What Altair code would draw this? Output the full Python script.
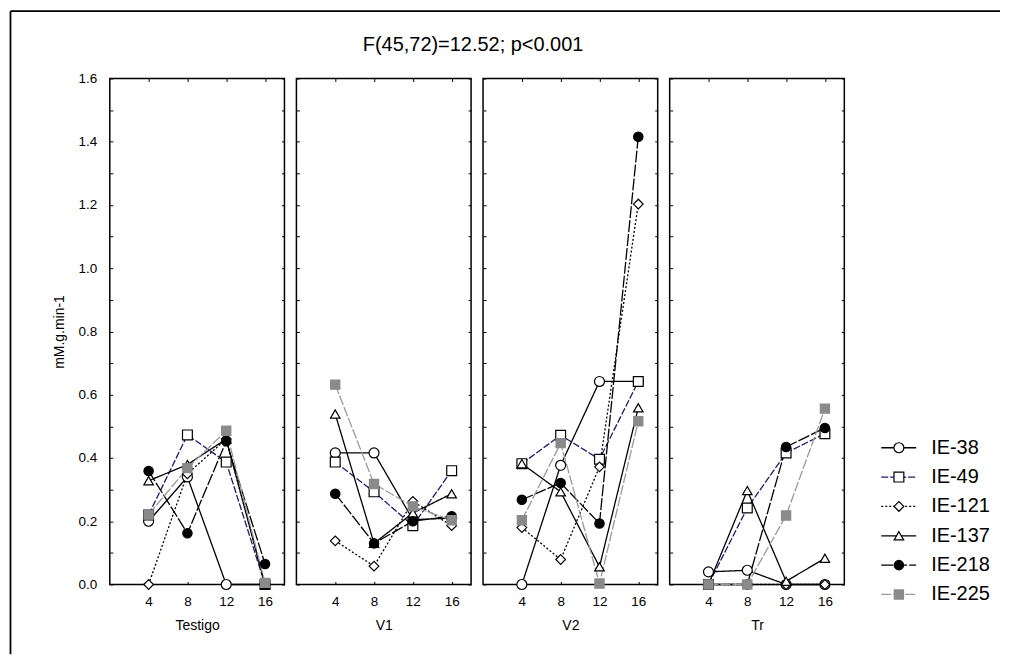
import altair as alt
import pandas as pd

weeks = [4, 8, 12, 16]
treatments = ["Testigo", "V1", "V2", "Tr"]
series = ["IE-38", "IE-49", "IE-121", "IE-137", "IE-218", "IE-225"]
chart_title = "F(45,72)=12.52; p<0.001"
y_title = "mM.g.min-1"

# values per series: Testigo(4,8,12,16), V1(4..16), V2(4..16), Tr(4..16)
ie38 = [0.20, 0.34, 0.00, 0.00, 0.416, 0.416, 0.205, 0.21, 0.00, 0.377, 0.642, 0.642, 0.04, 0.045, 0.00, 0.00]
ie49 = [0.22, 0.473, 0.387, 0.00, 0.387, 0.293, 0.186, 0.36, 0.382, 0.472, 0.396, 0.642, 0.00, 0.242, 0.416, 0.477]
ie121 = [0.00, 0.35, 0.46, 0.00, 0.138, 0.058, 0.263, 0.186, 0.18, 0.079, 0.372, 1.203, 0.00, 0.00, 0.00, 0.00]
ie137 = [0.328, 0.379, 0.46, 0.00, 0.539, 0.13, 0.226, 0.287, 0.382, 0.293, 0.056, 0.559, 0.00, 0.297, 0.01, 0.083]
ie218 = [0.359, 0.162, 0.453, 0.065, 0.287, 0.13, 0.20, 0.216, 0.268, 0.321, 0.193, 1.416, 0.00, 0.00, 0.435, 0.495]
ie225 = [0.221, 0.368, 0.486, 0.005, 0.632, 0.318, 0.247, 0.203, 0.203, 0.447, 0.003, 0.516, 0.00, 0.00, 0.218, 0.556]
all_vals = [ie38, ie49, ie121, ie137, ie218, ie225]

line_colors = ["#000000", "#1a1a72", "#000000", "#000000", "#000000", "#9a9a9a"]
dashes = [[1, 0], [7, 2], [2, 2], [1, 0], [12, 2], [10, 2]]
shapes = ["circle", "square", "diamond", "triangle-up", "circle", "square"]
fills = ["#ffffff", "#ffffff", "#ffffff", "#ffffff", "#000000", "#8a8a8a"]
strokes = ["#000000", "#000000", "#000000", "#000000", "#000000", "#8a8a8a"]
sizes = [100, 85, 60, 110, 100, 95]
legend_sizes = [70, 60, 48, 72, 70, 66]
stroke_widths = [1.2, 1.2, 1.2, 1.8, 1.2, 1.0]

rows = []
for si, (name, vals) in enumerate(zip(series, all_vals)):
    for ti, t in enumerate(treatments):
        for wi, w in enumerate(weeks):
            rows.append(dict(series=name, order=si, treatment=t, week=w, value=vals[ti * 4 + wi]))
df = pd.DataFrame(rows)

FONT = "Liberation Sans"
W, H = 175, 507
yvals = [round(i * 0.1, 1) for i in range(17)]
ylabel_expr = "round(datum.value*10) % 2 == 0 ? format(datum.value, '.1f') : ''"

xs = alt.Scale(domain=[0, 18], nice=False, zero=False)
ys = alt.Scale(domain=[0, 1.6], nice=False)

color_enc = alt.Color("series:N", scale=alt.Scale(domain=series, range=line_colors), legend=None)
dash_enc = alt.StrokeDash("series:N", scale=alt.Scale(domain=series, range=dashes), legend=None)
shape_enc = alt.Shape("series:N", scale=alt.Scale(domain=series, range=shapes), legend=None)
fill_enc = alt.Fill("series:N", scale=alt.Scale(domain=series, range=fills), legend=None)
stroke_enc = alt.Stroke("series:N", scale=alt.Scale(domain=series, range=strokes), legend=None)
sw_enc = alt.StrokeWidth("series:N", scale=alt.Scale(domain=series, range=stroke_widths), legend=None)


def panel(t, first):
    base = alt.Chart(df).transform_filter(alt.datum.treatment == t)
    yaxis_kw = dict(orient="left", values=yvals, offset=-3, tickSize=3, domain=False, grid=False)
    if first:
        yaxis_kw.update(labels=True, labelExpr=ylabel_expr, labelPadding=13, title=y_title, titlePadding=12)
    else:
        yaxis_kw.update(labels=False, title=None)
    lines = base.mark_line(strokeWidth=1.3).encode(
        x=alt.X("week:Q", scale=xs, axis=alt.Axis(orient="bottom", values=weeks, offset=-3, tickSize=3,
                                                   domain=False, grid=False, labelPadding=10, title=t,
                                                   titlePadding=11)),
        y=alt.Y("value:Q", scale=ys, axis=alt.Axis(**yaxis_kw)),
        color=color_enc,
        strokeDash=dash_enc,
        detail="series:N",
    )
    points = base.mark_point(filled=True, opacity=1).encode(
        x=alt.X("week:Q", scale=xs, axis=alt.Axis(orient="top", values=weeks, offset=-3, tickSize=3,
                                                   domain=False, grid=False, labels=False, title=None)),
        y=alt.Y("value:Q", scale=ys, axis=alt.Axis(orient="right", values=yvals, offset=-3, tickSize=3,
                                                   domain=False, grid=False, labels=False, title=None)),
        shape=shape_enc,
        fill=fill_enc,
        stroke=stroke_enc,
        strokeWidth=sw_enc,
        size=alt.Size("series:N", scale=alt.Scale(domain=series, range=sizes), legend=None),
        order=alt.Order("order:Q"),
    )
    layers = [lines, points]
    if first:
        one = pd.DataFrame({"t": [chart_title]})
        frame_v = alt.Chart(one).mark_rule(strokeWidth=1.8, color="black").encode(
            x=alt.value(-99.5), y=alt.value(-67.5), y2=alt.value(577))
        frame_h = alt.Chart(one).mark_rule(strokeWidth=1.8, color="black").encode(
            x=alt.value(-99.5), x2=alt.value(892), y=alt.value(-67.5))
        title_txt = alt.Chart(one).mark_text(font=FONT, fontSize=20, align="center", baseline="middle",
                                             color="black").encode(
            text="t:N", x=alt.value(364), y=alt.value(-34))
        layers = [frame_v, frame_h, title_txt] + layers
    return alt.layer(*layers).resolve_axis(x="independent", y="independent").properties(width=W, height=H)


leg_df = pd.DataFrame({"series": series, "idx": list(range(len(series)))})
leg_y = alt.Y("idx:Q", scale=alt.Scale(domain=[-12.585, 4.66], nice=False, zero=False, reverse=True), axis=None)
leg_base = alt.Chart(leg_df)
leg_lines = leg_base.mark_rule(strokeWidth=1.3).encode(
    x=alt.value(25), x2=alt.value(60), y=leg_y, color=color_enc, strokeDash=dash_enc)
leg_pts = leg_base.mark_point(filled=True, opacity=1).encode(
    x=alt.value(42.7), y=leg_y, shape=shape_enc, fill=fill_enc, stroke=stroke_enc, strokeWidth=sw_enc,
    size=alt.Size("series:N", scale=alt.Scale(domain=series, range=legend_sizes), legend=None))
leg_txt = leg_base.mark_text(font=FONT, fontSize=20, align="left", baseline="middle", color="black").encode(
    x=alt.value(75), y=leg_y, text="series:N")
legend = alt.layer(leg_lines, leg_pts, leg_txt).properties(
    width=145, height=H, view=alt.ViewBackground(stroke="transparent"))

views = [panel(t, i == 0) for i, t in enumerate(treatments)] + [legend]
chart = alt.hconcat(*views, spacing=12, bounds="flush").properties(
    padding={"left": 0, "top": 0, "right": 0, "bottom": 0}
).configure_view(stroke="black", strokeWidth=1.5).configure_axis(
    labelFont=FONT, titleFont=FONT, labelFontSize=13.5, titleFontSize=14, labelColor="black",
    titleColor="black", tickColor="black", tickWidth=1, titleFontWeight="normal"
)

chart.save("out.html", embed_options={"renderer": "svg", "actions": False})
